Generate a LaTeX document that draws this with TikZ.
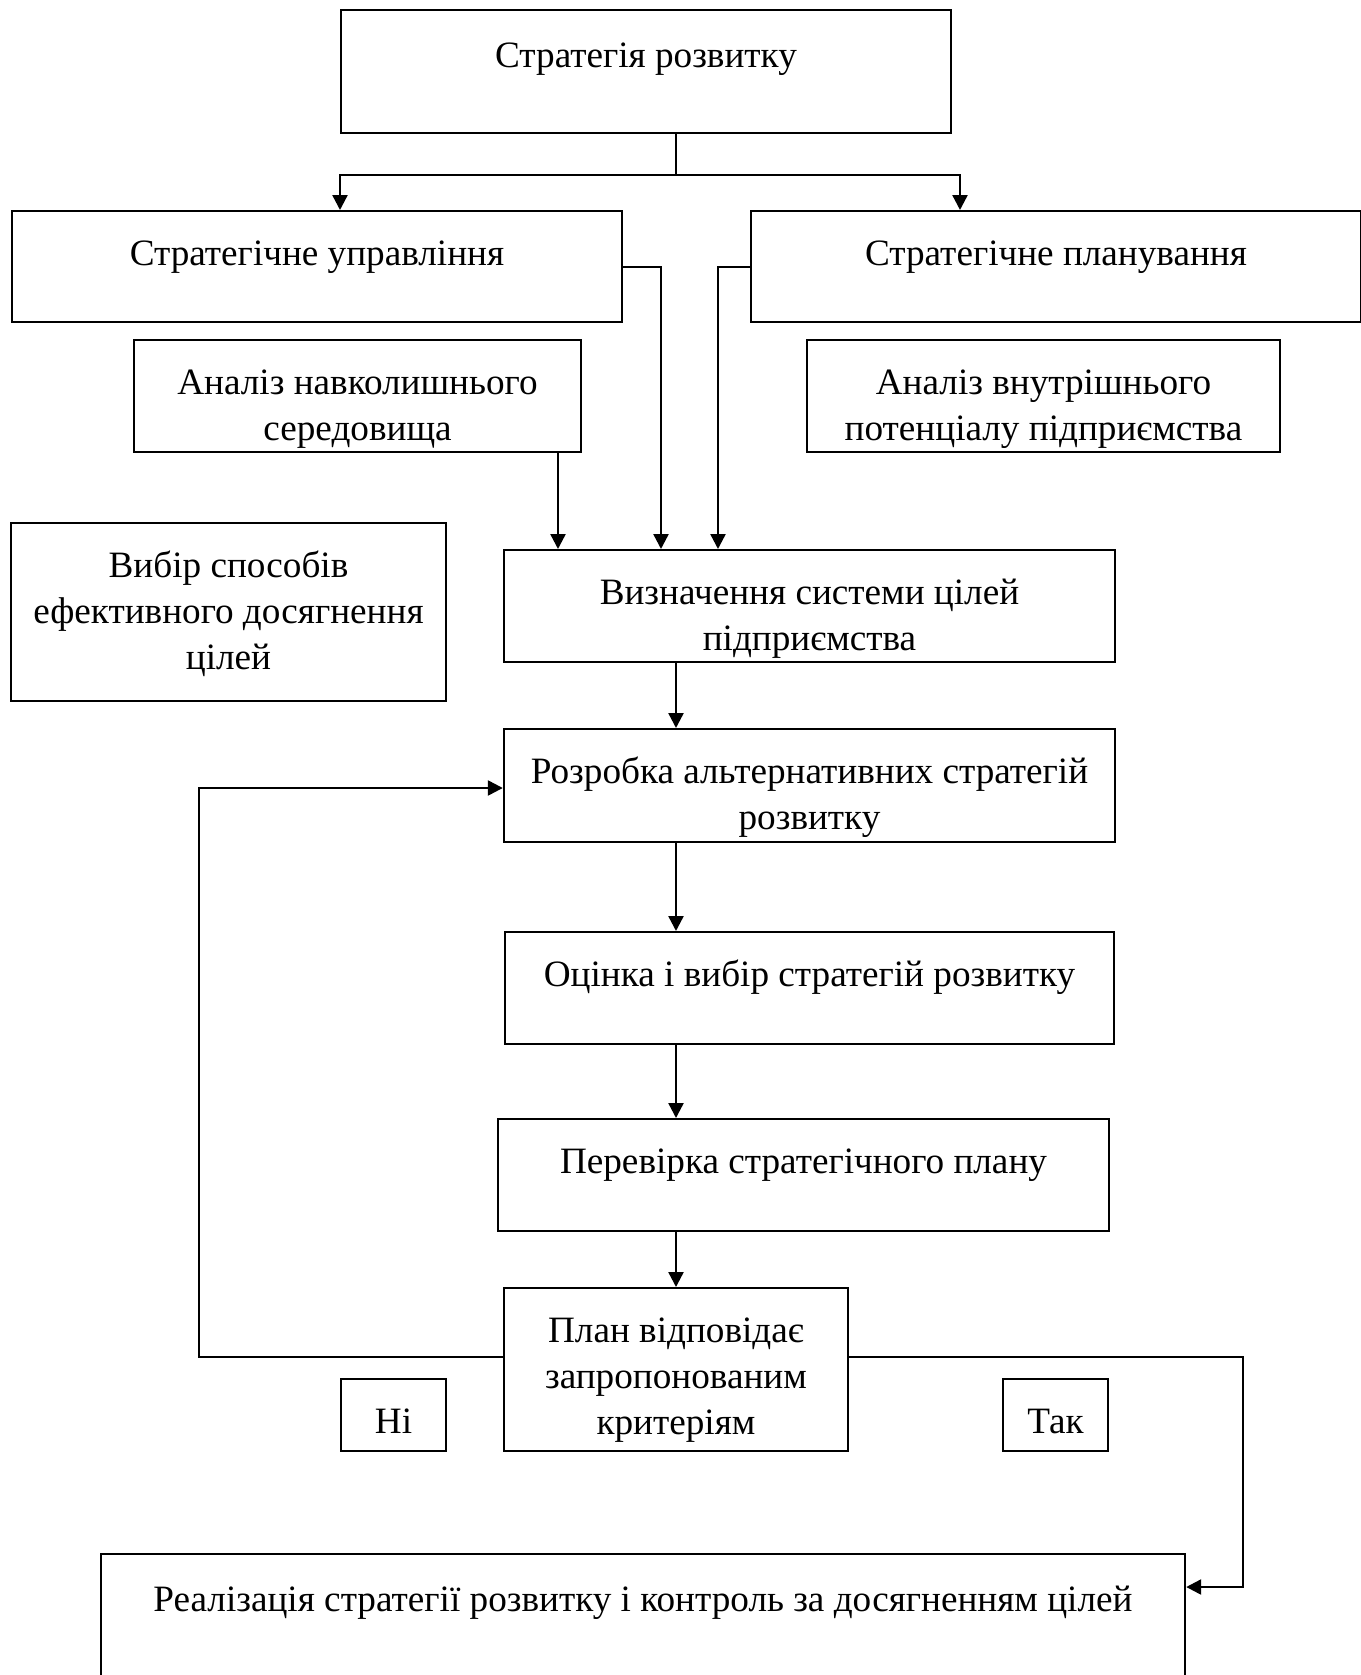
\documentclass[tikz,border=0pt]{standalone}
\usepackage{fontspec}
\setmainfont{Liberation Serif}
\usetikzlibrary{arrows.meta, calc}

\tikzset{
    box/.style={draw, line width=1.2pt, inner sep=0pt, align=center, anchor=north,
        font=\fontsize{18.6}{23}\selectfont, text height=27pt, text depth=#1},
    twoline/.style={text height=50pt},
    threeline/.style={text height=73pt},
    line/.style={line width=1.2pt},
    arr/.style={line, -{Triangle[length=7.5pt, width=7.5pt]}}
}

\begin{document}
\begin{tikzpicture}[x=0.5pt, y=-0.5pt]
    \useasboundingbox (0,0) rectangle (1360,1675);

    % Top level
    \node[box=33pt, text height=28.5pt, minimum width=305pt] (top) at (646,9) {Стратегія розвитку};
    \node[box=28.5pt, minimum width=305pt] (sm) at (317,210) {Стратегічне управління};
    \node[box=28.5pt, minimum width=305pt] (sp) at (1056,210) {Стратегічне планування};

    % Analysis
    \node[box=6pt, twoline, minimum width=223.5pt] (env) at (357.5,339) {Аналіз навколишнього\\середовища};
    \node[box=6pt, twoline, minimum width=236.5pt] (inner) at (1043.5,339) {Аналіз внутрішнього\\потенціалу підприємства};
    \node[box=16pt, threeline, minimum width=217.5pt] (choice) at (228.5,522) {Вибір способів\\ефективного досягнення\\цілей};

    % Main column
    \node[box=6pt, twoline, minimum width=305.5pt] (goals) at (809.5,549) {Визначення системи цілей\\підприємства};
    \node[box=6.5pt, twoline, minimum width=305.5pt] (alt) at (809.5,728) {Розробка альтернативних стратегій\\розвитку};
    \node[box=29pt, minimum width=304.5pt] (eval) at (809.5,931) {Оцінка і вибір стратегій розвитку};
    \node[box=29pt, minimum width=305.5pt] (check) at (803.5,1118) {Перевірка стратегічного плану};
    \node[box=8.5pt, threeline, minimum width=172pt] (plan) at (676,1287) {План відповідає\\запропонованим\\критеріям};
    \node[box=9pt, minimum width=52.5pt] (no) at (393.5,1378) {Ні};
    \node[box=9pt, minimum width=52.5pt] (yes) at (1055.5,1378) {Так};
    \node[box=45pt, text height=28.5pt, minimum width=542pt] (impl) at (643,1553) {Реалізація стратегії розвитку і контроль за досягненням цілей};

    % Fork from the top
    \coordinate (fork) at (676,175);
    \draw[line] (top.south -| fork) -- (fork);
    \draw[arr] (fork) -| ([xshift=11.5pt]sm.north);
    \draw[arr] (fork) -| ([xshift=-48pt]sp.north);

    % Into the goals
    \draw[arr] ([xshift=100.25pt]env.south) -- ([xshift=100.25pt]env.south |- goals.north);
    \draw[arr] (sm.east) -| ([xshift=-74.25pt]goals.north);
    \draw[arr] (sp.west) -| ([xshift=-45.75pt]goals.north);

    % Down the column
    \draw[arr] (plan.north |- goals.south) -- (plan.north |- alt.north);
    \draw[arr] (plan.north |- alt.south) -- (plan.north |- eval.north);
    \draw[arr] (plan.north |- eval.south) -- (plan.north |- check.north);
    \draw[arr] (plan.north |- check.south) -- (plan.north);

    % No / yes
    \draw[arr] ([yshift=-35pt]plan.north west) -- ++(-304,0) |- ([yshift=-30pt]alt.north west);
    \draw[arr] ([yshift=-35pt]plan.north east) -- ++(394,0) |- ([yshift=-17pt]impl.north east);
\end{tikzpicture}
\end{document}
